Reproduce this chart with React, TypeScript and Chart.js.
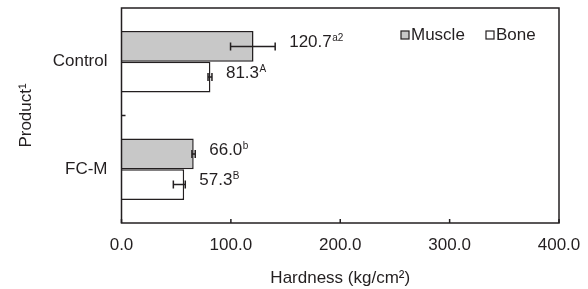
import React, { useEffect, useRef } from 'react';
import { Chart, registerables } from 'chart.js';

Chart.register(...registerables);

const categories = ['Control', 'FC-M'];
const muscleValues = [120.7, 66.0];
const boneValues = [81.3, 57.3];
const muscleErrLow = [21.0, 1.6];
const muscleErrHigh = [19.8, 1.4];
const boneErrLow = [2.2, 9.9];
const boneErrHigh = [1.4, 1.0];
const muscleLetters = ['a2', 'b'];
const boneLetters = ['A', 'B'];
const xMin = 0;
const xMax = 400;
const xStep = 100;
const seriesNames = ['Muscle', 'Bone'];

const FONT = '"Liberation Sans", Arial, Helvetica, sans-serif';
const INK = '#231f20';
const MUSCLE_FILL = '#c8c8c8';
const BONE_FILL = '#ffffff';

const decor = {
  id: 'decor',
  afterDatasetsDraw(chart: any) {
    const ctx = chart.ctx;
    const xs = chart.scales.x;
    const sets = [
      { vals: muscleValues, lo: muscleErrLow, hi: muscleErrHigh, sup: muscleLetters },
      { vals: boneValues, lo: boneErrLow, hi: boneErrHigh, sup: boneLetters },
    ];
    ctx.save();
    sets.forEach((s, di) => {
      const meta = chart.getDatasetMeta(di);
      meta.data.forEach((bar: any, i: number) => {
        const y = bar.y;
        const x1 = xs.getPixelForValue(s.vals[i] - s.lo[i]);
        const x2 = xs.getPixelForValue(s.vals[i] + s.hi[i]);
        ctx.strokeStyle = INK;
        ctx.lineWidth = 1.5;
        ctx.beginPath();
        ctx.moveTo(x1, y);
        ctx.lineTo(x2, y);
        ctx.moveTo(x1, y - 4);
        ctx.lineTo(x1, y + 4);
        ctx.moveTo(x2, y - 4);
        ctx.lineTo(x2, y + 4);
        ctx.stroke();
        const tx = Math.max(x2, bar.x) + 14;
        const ty = y - 4;
        ctx.fillStyle = INK;
        ctx.textAlign = 'left';
        ctx.textBaseline = 'middle';
        ctx.font = `17px ${FONT}`;
        const txt = s.vals[i].toFixed(1);
        ctx.fillText(txt, tx, ty);
        const w = ctx.measureText(txt).width;
        ctx.font = `10px ${FONT}`;
        ctx.fillText(s.sup[i], tx + w + 0.5, ty - 4);
      });
    });
    ctx.restore();
  },
  afterDraw(chart: any) {
    const ctx = chart.ctx;
    const { left, right, top, bottom } = chart.chartArea;
    const xs = chart.scales.x;
    ctx.save();
    ctx.strokeStyle = INK;
    ctx.lineWidth = 1.5;
    ctx.strokeRect(left, top, right - left, bottom - top);
    ctx.beginPath();
    for (let v = xMin; v <= xMax; v += xStep) {
      const px = xs.getPixelForValue(v);
      ctx.moveTo(px, bottom);
      ctx.lineTo(px, bottom - 4);
    }
    const mid = (top + bottom) / 2;
    ctx.moveTo(left, mid);
    ctx.lineTo(left + 4, mid);
    ctx.stroke();

    // legend
    const fills = [MUSCLE_FILL, BONE_FILL];
    const lx = [right - 158, right - 73];
    const ly = top + 27;
    ctx.font = `17px ${FONT}`;
    ctx.textBaseline = 'middle';
    ctx.textAlign = 'left';
    seriesNames.forEach((name, i) => {
      ctx.fillStyle = fills[i];
      ctx.fillRect(lx[i], ly - 4, 8, 8);
      ctx.lineWidth = 1.2;
      ctx.strokeStyle = INK;
      ctx.strokeRect(lx[i], ly - 4, 8, 8);
      ctx.fillStyle = INK;
      ctx.fillText(name, lx[i] + 10, ly);
    });
    ctx.restore();
  },
};

export default function App() {
  const ref = useRef<HTMLCanvasElement | null>(null);
  useEffect(() => {
    if (!ref.current) return;
    Chart.defaults.font.family = FONT;
    const chart = new Chart(ref.current, {
      type: 'bar',
      data: {
        labels: categories,
        datasets: [
          {
            label: seriesNames[0],
            data: muscleValues,
            backgroundColor: MUSCLE_FILL,
            borderColor: INK,
            borderWidth: 1.5,
            barPercentage: 1,
            categoryPercentage: 0.57,
          },
          {
            label: seriesNames[1],
            data: boneValues,
            backgroundColor: BONE_FILL,
            borderColor: INK,
            borderWidth: 1.5,
            barPercentage: 1,
            categoryPercentage: 0.57,
          },
        ],
      },
      options: {
        indexAxis: 'y',
        animation: false,
        responsive: true,
        maintainAspectRatio: false,
        layout: { padding: { left: 0, right: 29, top: 8, bottom: 0 } },
        plugins: { legend: { display: false }, tooltip: { enabled: false } },
        scales: {
          x: {
            type: 'linear',
            min: xMin,
            max: xMax,
            ticks: {
              stepSize: xStep,
              callback: (v: any) => Number(v).toFixed(1),
              color: INK,
              font: { size: 17, family: FONT },
              padding: 12,
              maxRotation: 0,
            },
            grid: { display: false, drawTicks: false },
            border: { display: false },
            title: {
              display: true,
              text: 'Hardness (kg/cm²)',
              color: INK,
              font: { size: 17, family: FONT },
              padding: { top: 4, bottom: 0 },
            },
            afterFit: (s: any) => {
              s.height = 66;
              s.paddingLeft = 0;
              s.paddingRight = 0;
            },
          },
          y: {
            type: 'category',
            ticks: { color: INK, font: { size: 17, family: FONT }, padding: 14 },
            grid: { display: false, drawTicks: false },
            border: { display: false },
            title: {
              display: true,
              text: 'Product¹',
              color: INK,
              font: { size: 17, family: FONT },
              padding: { top: 16, bottom: 0 },
            },
            afterFit: (s: any) => {
              s.width = 121.5;
              s.paddingTop = 0;
              s.paddingBottom = 0;
            },
          },
        },
      },
      plugins: [decor],
    } as any);
    return () => chart.destroy();
  }, []);
  return (
    <div style={{ position: 'absolute', left: 0, top: 0, width: 588, height: 289 }}>
      <canvas ref={ref} />
    </div>
  );
}
